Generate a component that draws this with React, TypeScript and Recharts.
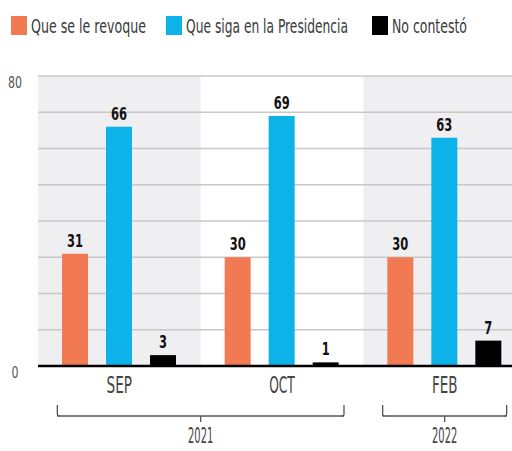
import React from 'react';
import {
  BarChart, Bar, XAxis, YAxis, CartesianGrid, ReferenceArea, LabelList,
} from 'recharts';

const months = ['SEP', 'OCT', 'FEB'];
const years = ['2021', '2021', '2022'];
const revoque = [31, 30, 30];
const siga = [66, 69, 63];
const noContesto = [3, 1, 7];
const yTicks = [0, 10, 20, 30, 40, 50, 60, 70, 80];
const shadedMonths = ['SEP', 'FEB'];

// legend position/width are styling only
const series = [
  { key: 'revoque', name: 'Que se le revoque', color: '#f27a52', lx: 11, tw: 115 },
  { key: 'siga', name: 'Que siga en la Presidencia', color: '#0db2e9', lx: 166, tw: 162 },
  { key: 'noContesto', name: 'No contestó', color: '#000000', lx: 372, tw: 75 },
];

const data = months.map((m, i) => ({
  month: m,
  year: years[i],
  revoque: revoque[i],
  siga: siga[i],
  noContesto: noContesto[i],
}));

const FONT = "'DejaVu Sans Condensed', 'DejaVu Sans', sans-serif";

// narrow text: squeeze glyphs to a width per character
const Narrow = ({ x, y, w, size, fill, weight, children }: any) => {
  const str = String(children);
  return (
    <text x={x} y={y} textAnchor="middle" fontFamily={FONT} fontSize={size} fill={fill}
      fontWeight={weight || 400} textLength={str.length * w} lengthAdjust="spacingAndGlyphs">
      {str}
    </text>
  );
};

const YTick = (props: any) => {
  const { y, payload } = props;
  if (payload.value !== 0 && payload.value !== 80) return null;
  return <Narrow x={15} y={y + 11.5} w={7} size={15} fill="#555">{payload.value}</Narrow>;
};

const MonthTick = (props: any) => {
  const { x, y, payload, index } = props;
  const half = payload.offset || 81;
  const year = years[index];
  const prevSame = index > 0 && years[index - 1] === year;
  const nextSame = index < years.length - 1 && years[index + 1] === year;
  const arm = 62;
  const left = prevSame ? x - half : x - arm;
  const right = nextSame ? x + half : x + arm;
  const lineY = y + 50;
  let count = 1;
  for (let j = index - 1; j >= 0 && years[j] === year; j--) count++;
  const groupCenter = x - (count - 1) * half;
  const stroke = '#555';
  return (
    <g>
      <Narrow x={x} y={y + 27} w={8.5} size={23} fill="#444">{payload.value}</Narrow>
      <line x1={left} x2={right} y1={lineY} y2={lineY} stroke={stroke} strokeWidth={1.3} />
      {!prevSame && <path d={`M${left},${lineY - 11} L${left},${lineY - 2} Q${left},${lineY} ${left + 2},${lineY}`} fill="none" stroke={stroke} strokeWidth={1.3} />}
      {!nextSame && <path d={`M${right},${lineY - 11} L${right},${lineY - 2} Q${right},${lineY} ${right - 2},${lineY}`} fill="none" stroke={stroke} strokeWidth={1.3} />}
      {!nextSame && (
        <g>
          <line x1={groupCenter} x2={groupCenter} y1={lineY} y2={lineY + 6} stroke={stroke} strokeWidth={1.3} />
          <Narrow x={groupCenter} y={lineY + 27} w={6.3} size={22} fill="#444">{year}</Narrow>
        </g>
      )}
    </g>
  );
};

const ValueLabel = (props: any) => {
  const { x, y, width, value } = props;
  return (
    <Narrow x={x + width / 2} y={y - 7} w={8} size={18} weight={700} fill="#111">{value}</Narrow>
  );
};

const Legend = () => (
  <svg width={512} height={50} style={{ position: 'absolute', top: 0, left: 0 }}>
    {series.map((s) => (
      <g key={s.key}>
        <rect x={s.lx} y={16} width={16} height={19} fill={s.color} />
        <text x={s.lx + 20} y={33} fontFamily={FONT} fontSize={20} fill="#3a3a3a"
          textLength={s.tw} lengthAdjust="spacingAndGlyphs">
          {s.name}
        </text>
      </g>
    ))}
  </svg>
);

export default function App() {
  return (
    <div style={{ position: 'absolute', top: 0, left: 0, width: 512, height: 451, overflow: 'hidden', background: '#fff' }}>
      <BarChart
        width={526}
        height={451}
        data={data}
        margin={{ top: 76, right: 0, left: 0, bottom: 5 }}
        barCategoryGap={24}
        barGap={18}
      >
        {shadedMonths.map((m) => (
          <ReferenceArea key={m} x1={m} x2={m} y1={0} y2={80} fill="#efeff1" fillOpacity={1} stroke="none" zIndex={-150} />
        ))}
        <CartesianGrid vertical={false} stroke="#c8c8c8" strokeWidth={1.5} />
        <YAxis
          domain={[0, 80]}
          ticks={yTicks}
          width={38}
          axisLine={false}
          tickLine={false}
          tick={<YTick />}
          interval={0}
        />
        <XAxis
          dataKey="month"
          height={80}
          axisLine={{ stroke: '#000', strokeWidth: 2.5 }}
          tickLine={false}
          tickSize={0}
          tickMargin={0}
          interval={0}
          tick={<MonthTick />}
        />
        {series.map((s) => (
          <Bar key={s.key} dataKey={s.key} name={s.name} fill={s.color} barSize={26} isAnimationActive={false}>
            <LabelList dataKey={s.key} content={<ValueLabel />} />
          </Bar>
        ))}
      </BarChart>
      <Legend />
    </div>
  );
}
